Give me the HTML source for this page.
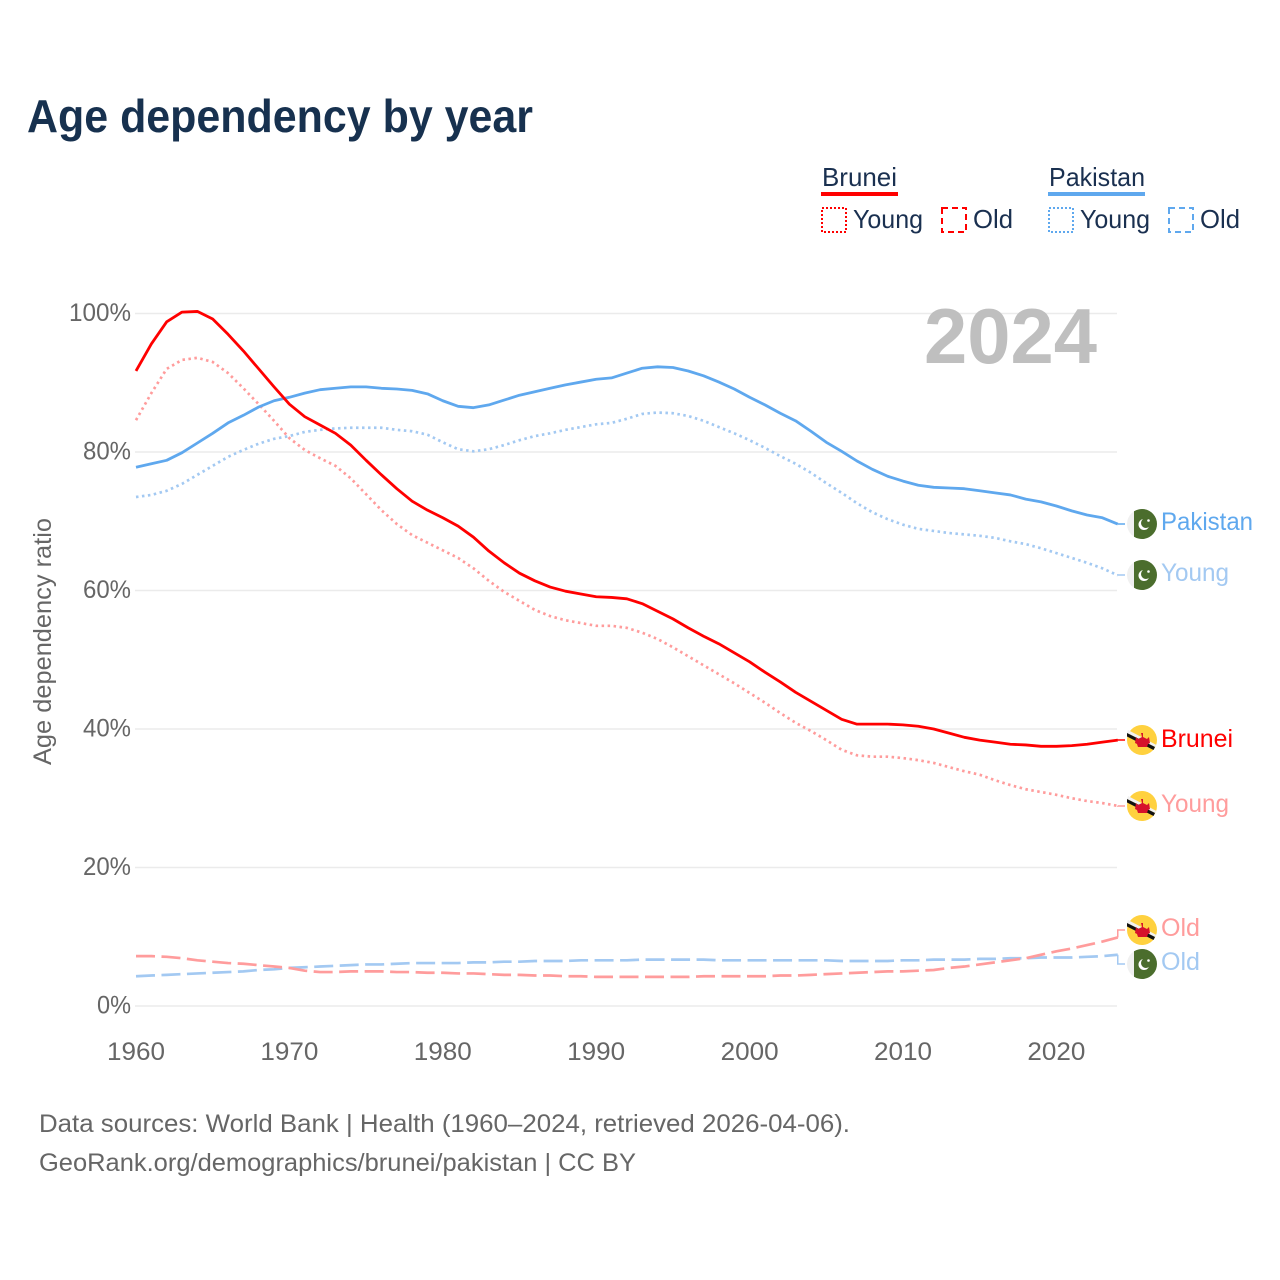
<!DOCTYPE html>
<html lang="en">
<head>
<meta charset="utf-8">
<title>Age dependency by year</title>
<style>
html,body{margin:0;padding:0;background:#fff;}
svg{display:block;font-family:"Liberation Sans",sans-serif;}
</style>
</head>
<body>
<svg id="chart" width="1280" height="1280" viewBox="0 0 1280 1280" xmlns="http://www.w3.org/2000/svg">
  <rect width="1280" height="1280" fill="#ffffff"/>
  <text x="27" y="132" font-size="46" font-weight="700" fill="#17314f" textLength="506" lengthAdjust="spacingAndGlyphs">Age dependency by year</text>

  <g font-size="26" fill="#1a3050">
    <text x="822" y="186" textLength="75" lengthAdjust="spacingAndGlyphs">Brunei</text>
    <rect x="821" y="192" width="77" height="4" fill="#ff0000"/>
    <rect x="822" y="208" width="24" height="24" fill="none" stroke="#ff0000" stroke-width="2" stroke-dasharray="2 2"/>
    <text x="853" y="228" textLength="70" lengthAdjust="spacingAndGlyphs">Young</text>
    <rect x="942" y="208" width="24" height="24" fill="none" stroke="#ff0000" stroke-width="2" stroke-dasharray="6 4"/>
    <text x="973" y="228" textLength="40" lengthAdjust="spacingAndGlyphs">Old</text>
    <text x="1049" y="186" textLength="96" lengthAdjust="spacingAndGlyphs">Pakistan</text>
    <rect x="1048" y="192" width="97" height="4" fill="#5fa8ee"/>
    <rect x="1049" y="208" width="24" height="24" fill="none" stroke="#5fa8ee" stroke-width="2" stroke-dasharray="2 2"/>
    <text x="1080" y="228" textLength="70" lengthAdjust="spacingAndGlyphs">Young</text>
    <rect x="1169" y="208" width="24" height="24" fill="none" stroke="#5fa8ee" stroke-width="2" stroke-dasharray="6 4"/>
    <text x="1200" y="228" textLength="40" lengthAdjust="spacingAndGlyphs">Old</text>
  </g>

  <g id="grid"></g>
  <text x="924" y="363" font-size="78" font-weight="700" fill="#bfbfbf" textLength="173" lengthAdjust="spacingAndGlyphs">2024</text>
  <g id="yticks" font-size="25" fill="#666666" text-anchor="end"></g>
  <g id="xticks" font-size="25" fill="#666666" text-anchor="middle"></g>
  <text transform="translate(51,765) rotate(-90)" font-size="25" fill="#666666" textLength="247" lengthAdjust="spacingAndGlyphs">Age dependency ratio</text>
  <g id="series" fill="none" stroke-linejoin="round"></g>
  <g id="endcaps"></g>

  <g font-size="25" fill="#666666">
    <text x="39" y="1132" textLength="811" lengthAdjust="spacingAndGlyphs">Data sources: World Bank | Health (1960–2024, retrieved 2026-04-06).</text>
    <text x="39" y="1171" textLength="597" lengthAdjust="spacingAndGlyphs">GeoRank.org/demographics/brunei/pakistan | CC BY</text>
  </g>
</svg>
<script>
const startYear = 1960;
const xTickLabels = [1960, 1970, 1980, 1990, 2000, 2010, 2020];
const yTickLabels = [0, 20, 40, 60, 80, 100];

const bruneiTotal = [
  91.7,95.6,98.8,100.2,100.3,99.2,97.0,94.6,92.0,89.4,
  86.9,85.1,83.9,82.7,81.0,78.8,76.7,74.7,72.9,71.6,
  70.5,69.3,67.7,65.7,64.0,62.5,61.4,60.5,59.9,59.5,
  59.1,59.0,58.8,58.1,57.0,55.9,54.6,53.4,52.3,51.0,
  49.7,48.2,46.8,45.3,44.0,42.7,41.4,40.7,40.7,40.7,
  40.6,40.4,40.0,39.4,38.8,38.4,38.1,37.8,37.7,37.5,
  37.5,37.6,37.8,38.1,38.4];
const bruneiYoung = [
  84.6,88.5,92.0,93.3,93.6,93.0,91.4,89.2,86.9,84.5,
  82.0,80.3,79.1,78.0,76.2,73.9,71.6,69.6,68.0,66.9,
  65.8,64.7,63.2,61.4,59.8,58.5,57.2,56.3,55.7,55.3,
  54.9,54.9,54.6,53.9,53.0,51.8,50.5,49.2,47.9,46.6,
  45.2,43.8,42.3,40.9,39.7,38.4,37.0,36.2,36.0,36.0,
  35.8,35.5,35.1,34.5,33.9,33.4,32.6,31.9,31.3,30.9,
  30.5,30.0,29.6,29.3,28.9];
const bruneiOld = [
  7.2,7.2,7.1,6.9,6.6,6.4,6.2,6.1,5.9,5.7,
  5.5,5.1,4.9,4.9,5.0,5.0,5.0,4.9,4.9,4.8,
  4.8,4.7,4.7,4.6,4.5,4.5,4.4,4.4,4.3,4.3,
  4.2,4.2,4.2,4.2,4.2,4.2,4.2,4.3,4.3,4.3,
  4.3,4.3,4.4,4.4,4.5,4.6,4.7,4.8,4.9,5.0,
  5.0,5.1,5.2,5.5,5.7,6.0,6.3,6.6,6.9,7.4,
  7.9,8.3,8.8,9.3,9.9];
const pakistanTotal = [
  77.8,78.3,78.8,79.9,81.3,82.7,84.2,85.3,86.5,87.4,
  87.9,88.5,89.0,89.2,89.4,89.4,89.2,89.1,88.9,88.4,
  87.4,86.6,86.4,86.8,87.5,88.2,88.7,89.2,89.7,90.1,
  90.5,90.7,91.4,92.1,92.3,92.2,91.7,91.0,90.1,89.1,
  87.9,86.8,85.6,84.5,83.0,81.4,80.1,78.7,77.5,76.5,
  75.8,75.2,74.9,74.8,74.7,74.4,74.1,73.8,73.2,72.8,
  72.2,71.5,70.9,70.5,69.6];
const pakistanYoung = [
  73.5,73.8,74.4,75.4,76.7,78.0,79.3,80.3,81.2,81.9,
  82.3,82.9,83.2,83.4,83.5,83.5,83.5,83.2,83.0,82.5,
  81.4,80.4,80.1,80.4,81.0,81.7,82.3,82.7,83.2,83.6,
  84.0,84.2,84.8,85.5,85.7,85.6,85.2,84.5,83.6,82.7,
  81.7,80.6,79.4,78.3,77.0,75.5,74.1,72.6,71.3,70.3,
  69.5,68.9,68.6,68.3,68.1,67.9,67.6,67.1,66.7,66.1,
  65.4,64.7,64.0,63.2,62.2];
const pakistanOld = [
  4.3,4.4,4.5,4.6,4.7,4.8,4.9,5.0,5.2,5.3,
  5.5,5.6,5.7,5.8,5.9,6.0,6.0,6.1,6.2,6.2,
  6.2,6.2,6.3,6.3,6.4,6.4,6.5,6.5,6.5,6.6,
  6.6,6.6,6.6,6.7,6.7,6.7,6.7,6.7,6.6,6.6,
  6.6,6.6,6.6,6.6,6.6,6.6,6.5,6.5,6.5,6.5,
  6.6,6.6,6.7,6.7,6.7,6.8,6.8,6.9,6.9,7.0,
  7.0,7.0,7.1,7.2,7.4];

const NS = 'http://www.w3.org/2000/svg';
function xScale(year) { return 136 + (year - 1960) * 15.34; }
function yScale(v) { return 1006 - v * 6.925; }
function make(tag, attrs, parent) {
  const el = document.createElementNS(NS, tag);
  for (const k in attrs) el.setAttribute(k, attrs[k]);
  parent.appendChild(el);
  return el;
}

const grid = document.getElementById('grid');
const yticks = document.getElementById('yticks');
yTickLabels.forEach(function (t) {
  const line = make('line', {x1: 135, x2: 1117, y1: yScale(t), y2: yScale(t), stroke: '#ebebeb', 'stroke-width': 1.5}, grid);
  
  
  const tickText = t + '%';
  const label = make('text', {x: 131, y: yScale(t) + 7.5, textLength: tickText.length === 4 ? 62 : (tickText.length === 3 ? 48 : 34), lengthAdjust: 'spacingAndGlyphs'}, yticks);
  
  
  label.textContent = tickText;
});

const xticks = document.getElementById('xticks');
xTickLabels.forEach(function (t) {
  const label = make('text', {x: xScale(t), y: 1060, textLength: 58, lengthAdjust: 'spacingAndGlyphs'}, xticks);
  
  
  label.textContent = t;
});

const RED = '#ff0000', BLUE = '#5fa8ee', PINK = '#ff9c9c', SKY = '#a3c9f2';
const seriesDefs = [
  {name: 'pakistan-old', values: pakistanOld, color: SKY, width: 2.7, dash: '19 6.5', country: 'pakistan', text: 'Old', labelY: 964, textLen: 39},
  {name: 'brunei-old', values: bruneiOld, color: PINK, width: 2.7, dash: '19 6.5', country: 'brunei', text: 'Old', labelY: 930, textLen: 39},
  {name: 'pakistan-young', values: pakistanYoung, color: SKY, width: 2.7, dash: '2.5 3.5', country: 'pakistan', text: 'Young', labelY: 575, textLen: 68},
  {name: 'brunei-young', values: bruneiYoung, color: PINK, width: 2.7, dash: '2.5 3.5', country: 'brunei', text: 'Young', labelY: 806, textLen: 68},
  {name: 'pakistan-total', values: pakistanTotal, color: BLUE, width: 2.8, dash: '', country: 'pakistan', text: 'Pakistan', labelY: 524, textLen: 92},
  {name: 'brunei-total', values: bruneiTotal, color: RED, width: 2.8, dash: '', country: 'brunei', text: 'Brunei', labelY: 740, textLen: 72}
];

const series = document.getElementById('series');
const endcaps = document.getElementById('endcaps');

function drawFlag(country, cy, parent) {
  const cx = 1142, r = 15;
  const g = make('g', {}, parent);
  
  
  if (country === 'pakistan') {
    make('circle', {cx: cx, cy: cy, r: r, fill: '#f0f0f0'}, g);
    make('path', {d: 'M' + (cx - 8) + ' ' + (cy - 12.7) + 'A' + r + ' ' + r + ' 0 1 1 ' + (cx - 8) + ' ' + (cy + 12.7) + 'Z', fill: '#4b6d2d'}, g);
    make('circle', {cx: cx + 2, cy: cy + 0.5, r: 5.5, fill: '#ffffff'}, g);
    make('circle', {cx: cx + 4, cy: cy - 1, r: 5, fill: '#4b6d2d'}, g);
    make('circle', {cx: cx + 6.5, cy: cy - 3.5, r: 1.3, fill: '#ffffff'}, g);
  } else {
    make('circle', {cx: cx, cy: cy, r: r, fill: '#ffd13f'}, g);
    make('path', {d: 'M' + (cx - 14) + ' ' + (cy - 10) + 'L' + (cx + 14.5) + ' ' + (cy + 5) + 'L' + (cx + 13) + ' ' + (cy + 7) + 'L' + (cx - 15) + ' ' + (cy - 7) + 'Z', fill: '#f2f2f2'}, g);
    make('path', {d: 'M' + (cx - 15) + ' ' + (cy - 7) + 'L' + (cx + 13) + ' ' + (cy + 7) + 'L' + (cx + 11.5) + ' ' + (cy + 10) + 'L' + (cx - 15) + ' ' + (cy - 3.5) + 'Z', fill: '#111111'}, g);
    make('path', {d: 'M' + (cx - 1) + ' ' + (cy - 7) + 'h2v4l4 2l2 -2l1 6l-2 1l-1 3h-9l-1 -3l-2 -1l1 -6l2 2l4 -2z', fill: '#d6112b'}, g);
  }
}

seriesDefs.forEach(function (s) {
  const pts = s.values.map(function (v, i) {
    return xScale(startYear + i).toFixed(2) + ' ' + yScale(v).toFixed(2);
  });
  const attrs = {d: 'M' + pts.join('L'), stroke: s.color, 'stroke-width': s.width};
  if (s.dash) attrs['stroke-dasharray'] = s.dash;
  const path = make('path', attrs, series);
  
  

  const lastY = yScale(s.values[s.values.length - 1]);
  const lastX = xScale(startYear + s.values.length - 1);
  const conn = make('path', {d: 'M' + lastX + ' ' + lastY + 'V' + s.labelY + 'H1125', fill: 'none', stroke: s.color, 'stroke-width': 1.5}, endcaps);
  
  

  drawFlag(s.country, s.labelY, endcaps);

  const label = make('text', {x: 1161, y: s.labelY + 7, 'font-size': 25, fill: s.color, textLength: s.textLen, lengthAdjust: 'spacingAndGlyphs'}, endcaps);
  if (s.text === 'Pakistan' || s.text === 'Young' || s.text === 'Old') label.setAttribute('y', s.labelY + 6);
  
  
  label.textContent = s.text;
});
</script>
</body>
</html>
